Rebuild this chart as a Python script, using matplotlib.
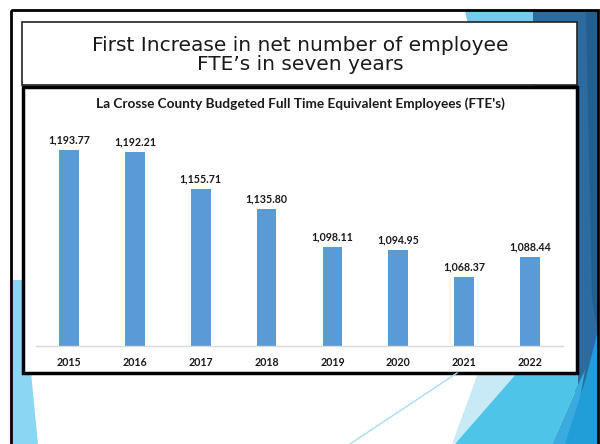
import matplotlib.pyplot as plt
from matplotlib.patches import Polygon, Rectangle

# Dati del grafico
anni = ['2015', '2016', '2017', '2018', '2019', '2020', '2021', '2022']
fte = [1193.77, 1192.21, 1155.71, 1135.80, 1098.11, 1094.95, 1068.37, 1088.44]

titolo_slide = "First Increase in net number of employee\nFTE\u2019s in seven years"
titolo_grafico = "La Crosse County Budgeted Full Time Equivalent Employees (FTE's)"

COLORE_BARRE = '#5B9BD5'

fig = plt.figure(figsize=(6, 4.44), dpi=100)

# --- Sfondo della slide (coordinate in pixel, y verso il basso) ---
bg = fig.add_axes([0, 0, 1, 1])
bg.set_xlim(0, 600)
bg.set_ylim(444, 0)
bg.axis('off')

# decorazioni blu
bg.add_patch(Polygon([(465, 11), (533, 11), (540, 120), (490, 120)], closed=True, color='#74CBEC', lw=0))
bg.add_patch(Polygon([(533, 11), (598, 11), (598, 340), (582, 400), (560, 373), (533, 200)], closed=True, color='#2C6B9F', lw=0))
bg.add_patch(Polygon([(586, 11), (598, 11), (598, 330), (592, 300)], closed=True, color='#245E8F', lw=0))
bg.add_patch(Polygon([(478, 373), (517, 373), (470, 435), (452, 444)], closed=True, color='#C8EAF7', lw=0))
bg.add_patch(Polygon([(517, 373), (578, 373), (578, 385), (552, 444), (455, 444)], closed=True, color='#4EC4E8', lw=0))
bg.add_patch(Polygon([(578, 385), (585, 370), (572, 444), (552, 444)], closed=True, color='#3AABDF', lw=0))
bg.add_patch(Polygon([(598, 330), (598, 444), (565, 444), (586, 378)], closed=True, color='#1F9FD6', lw=0))
bg.add_patch(Polygon([(13, 280), (13, 444), (38, 444), (22, 280)], closed=True, color='#8AD6F3', lw=0))
bg.plot([457, 350], [373, 444], color='#A8DDF2', lw=1)

# cornice della slide
bg.add_patch(Rectangle((11, 10), 587, 450, fill=False, edgecolor='black', lw=2))

# riquadro del titolo
bg.add_patch(Rectangle((22, 22), 555, 63, facecolor='white', edgecolor='#222222', lw=1.2))
bg.text(300, 55, titolo_slide, ha='center', va='center', fontsize=14.5,
        family='DejaVu Sans', color='#1a1a1a', linespacing=1.05)

# riquadro del grafico
bg.add_patch(Rectangle((23, 87), 554, 286, facecolor='white', edgecolor='black', lw=2.5))
bg.text(300, 104, titolo_grafico, ha='center', va='center', fontsize=9.8,
        family='Lato', fontweight='bold', color='#1a1a1a')

# --- Grafico a barre ---
ax = fig.add_axes([36 / 600, (444 - 346) / 444, 527 / 600, 202.1 / 444])
ax.set_facecolor('none')
posizioni = range(len(anni))
ax.bar(posizioni, fte, width=0.3, color=COLORE_BARRE)
ax.set_xlim(-0.5, len(anni) - 0.5)
ax.set_ylim(1000, 1200)

for i, v in enumerate(fte):
    ax.annotate(f"{v:,.2f}", (i, v), textcoords="offset pixels", xytext=(0, 10),
                ha='center', va='center', fontsize=7.7, fontweight='bold',
                family='Lato', color='#1a1a1a', annotation_clip=False)

ax.set_xticks(list(posizioni))
ax.set_xticklabels(anni, fontsize=7.7, fontweight='bold', family='Lato', color='#1a1a1a')
ax.tick_params(axis='x', length=0, pad=8)
ax.set_yticks([])
for lato in ['top', 'right', 'left']:
    ax.spines[lato].set_visible(False)
ax.spines['bottom'].set_color('#D9D9D9')
ax.spines['bottom'].set_linewidth(1)

plt.savefig('out.png', dpi=100)
